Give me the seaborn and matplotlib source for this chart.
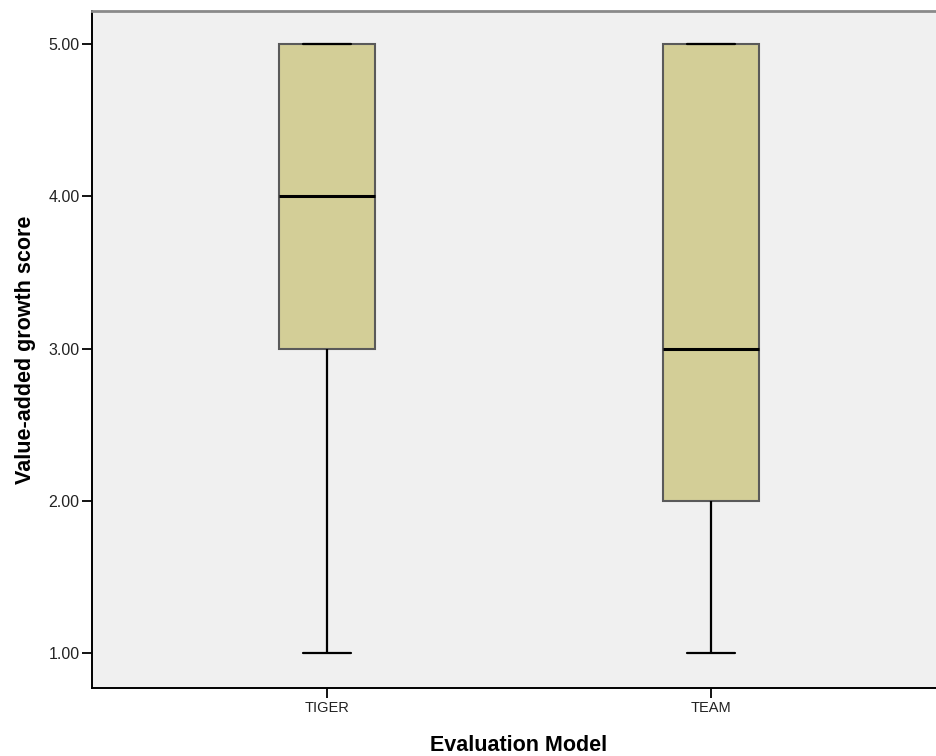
import pandas as pd
import numpy as np
import seaborn as sns
import matplotlib.pyplot as plt

models = ["TIGER", "TEAM"]
tiger_scores = [1, 2, 3, 3, 4, 4, 5, 5, 5]
team_scores = [1, 2, 2, 3, 3, 4, 5, 5, 5]
y_ticks = [1.0, 2.0, 3.0, 4.0, 5.0]

df = pd.DataFrame({
    "Evaluation Model": [models[0]] * len(tiger_scores) + [models[1]] * len(team_scores),
    "Value-added growth score": tiger_scores + team_scores,
})

sns.set_style("white")
plt.rcParams['font.family'] = ['Liberation Sans', 'DejaVu Sans']

fig = plt.figure(figsize=(9.37, 7.56), dpi=100)
ax = fig.add_axes([0.0982, 0.0899, 0.9114, 0.8955])
ax.set_facecolor("#F0F0F0")

sns.boxplot(data=df, x="Evaluation Model", y="Value-added growth score",
            order=models, width=0.25, color="#D3CE97", saturation=1,
            linewidth=1.5, whis=1.5, ax=ax,
            boxprops=dict(edgecolor="#5A5A5A", linewidth=1.5),
            medianprops=dict(color="black", linewidth=2.2),
            whiskerprops=dict(color="black", linewidth=1.6),
            capprops=dict(color="black", linewidth=1.6))

ax.set_xlim(-0.612, 1.612)
ax.set_ylim(0.77, 5.217)
ax.set_yticks(y_ticks)
ax.set_yticklabels([f"{v:.2f}" for v in y_ticks], fontsize=11.5, color="#222222")
ax.tick_params(axis="x", labelsize=10.5, labelcolor="#222222")
ax.tick_params(axis="both", direction="out", length=7, width=1.3, color="black",
               left=True, bottom=True, pad=2)

ax.set_xlabel("Evaluation Model", fontsize=15.5, fontweight="bold", labelpad=15, color="black")
ax.set_ylabel("Value-added growth score", fontsize=15.5, fontweight="bold", labelpad=9, color="black")

for side in ["left", "bottom"]:
    ax.spines[side].set_color("black")
    ax.spines[side].set_linewidth(1.4)
ax.spines["top"].set_color("#8A8A8A")
ax.spines["top"].set_linewidth(2)
ax.spines["right"].set_color("#8A8A8A")

fig.savefig("out.png", dpi=100)
